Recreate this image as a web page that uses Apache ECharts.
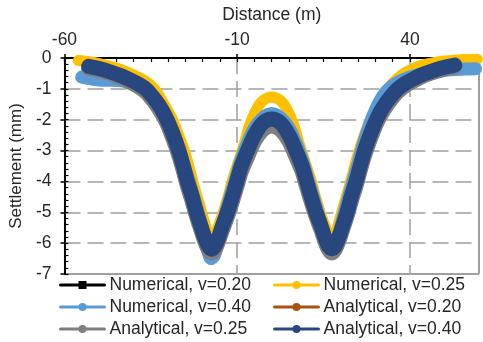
<!DOCTYPE html>
<html><head><meta charset="utf-8">
<script src="https://cdn.jsdelivr.net/npm/echarts@6/dist/echarts.min.js"></script>
<style>html,body{margin:0;padding:0;background:#fff}#c{width:483px;height:342px}</style>
</head><body><div id="c"></div>
<script>
// ---- data ----
const xAxisTitle = 'Distance (m)';
const yAxisTitle = 'Settlement (mm)';
const xMin = -60, xMax = 60, xStep = 50;
const yMin = -7, yMax = 0, yStep = 1;

const seriesNames = ['Numerical, v=0.20', 'Numerical, v=0.25', 'Numerical, v=0.40',
                     'Analytical, v=0.20', 'Analytical, v=0.25', 'Analytical, v=0.40'];

// Numerical v=0.25 and v=0.20 share x positions
const xNum = [-56, -53, -50, -47, -44, -41, -38, -35.5, -33.8, -32.2, -30.4, -28.6, -26.8, -25.3, -23.9, -22.6, -21.3, -20.1, -19.0, -18.1, -17.4, -16.6, -15.6, -14.3, -12.8, -11.2, -9.6, -8, -6.3, -4.5, -2.5, 0,
              2.5, 4.5, 6.3, 8, 9.6, 11.2, 12.8, 14.3, 15.6, 16.6, 17.4, 18.1, 19.0, 20.1, 21.3, 22.6, 23.9, 25.3, 26.8, 28.6, 30.4, 32.2, 33.8, 35.5, 38, 41, 44, 47, 50, 53, 56, 59.5];
const num25 = [-0.08, -0.12, -0.18, -0.26, -0.36, -0.5, -0.66, -0.84, -1.03, -1.3, -1.65, -2.03, -2.55, -3.0, -3.55, -4.1, -4.6, -5.07, -5.5, -5.85, -6.0, -5.85, -5.5, -5.1, -4.55, -3.9, -3.35, -2.8, -2.15, -1.68, -1.38, -1.26,
               -1.38, -1.68, -2.15, -2.8, -3.35, -3.9, -4.55, -5.1, -5.5, -5.82, -5.95, -5.82, -5.5, -5.07, -4.6, -4.1, -3.55, -3.0, -2.5, -1.98, -1.6, -1.25, -0.98, -0.76, -0.52, -0.34, -0.22, -0.15, -0.1, -0.07, -0.05, -0.04];
const num20 = [-0.04, -0.07, -0.12, -0.19, -0.28, -0.4, -0.55, -0.72, -0.88, -1.1, -1.45, -1.82, -2.3, -2.75, -3.3, -3.85, -4.35, -4.85, -5.3, -5.62, -5.75, -5.62, -5.3, -4.85, -4.3, -3.65, -3.1, -2.6, -2.05, -1.65, -1.45, -1.38,
               -1.45, -1.65, -2.05, -2.6, -3.1, -3.65, -4.3, -4.85, -5.25, -5.5, -5.6, -5.5, -5.25, -4.85, -4.35, -3.85, -3.3, -2.75, -2.3, -1.82, -1.45, -1.1, -0.88, -0.7, -0.48, -0.32, -0.21, -0.14, -0.09, -0.06, -0.04, -0.03];

const xNum40 = [-55, -52, -49, -46, -43, -40, -37, -35, -33, -31, -29.5, -28, -26.3, -25, -23.6, -22.2, -20.8, -19.6, -18.6, -17.6, -16.6, -15.6, -14.5, -13.2, -11.8, -10.3, -9, -7.2, -5.2, -2.7, 0,
                2.7, 5.2, 7.2, 9, 10.3, 11.8, 13.2, 14.5, 15.6, 16.6, 17.5, 18.4, 19.4, 20.6, 22, 23.4, 24.8, 26.1, 27.6, 29.2, 31, 33, 35.5, 38, 41, 44, 47, 50, 53, 56, 59];
const num40 = [-0.62, -0.68, -0.72, -0.72, -0.75, -0.82, -0.95, -1.15, -1.45, -1.8, -2.15, -2.55, -3.1, -3.6, -4.1, -4.65, -5.2, -5.75, -6.2, -6.5, -6.4, -6.0, -5.5, -4.95, -4.4, -3.85, -3.35, -2.8, -2.3, -1.95, -1.8,
               -1.95, -2.3, -2.8, -3.35, -3.85, -4.4, -4.95, -5.45, -5.85, -6.05, -6.1, -6.0, -5.7, -5.2, -4.6, -4.05, -3.5, -2.95, -2.4, -1.9, -1.45, -1.1, -0.85, -0.7, -0.58, -0.5, -0.44, -0.4, -0.37, -0.36, -0.35];

// Analytical series share x positions
const xAna = [-53, -50, -47, -44, -41.5, -39, -36.5, -34.5, -32.5, -30.5, -28.8, -26.9, -25.6, -24.4, -23.0, -21.8, -20.5, -19.3, -18.3, -17.4, -16.5, -15.5, -14.3, -12.8, -11.4, -10.1, -8.8, -7.0, -5.0, -2.5, 0,
              2.5, 5.0, 7.0, 8.8, 10.1, 11.4, 12.8, 14.3, 15.5, 16.5, 17.4, 18.3, 19.3, 20.5, 21.8, 23.0, 24.4, 25.6, 26.9, 28.8, 30.5, 32.5, 34.5, 36.5, 39, 41.5, 44, 47, 50, 53];
const ana40 = [-0.27, -0.34, -0.44, -0.56, -0.68, -0.82, -1.0, -1.25, -1.55, -1.95, -2.4, -3.0, -3.5, -4.0, -4.5, -5.0, -5.45, -5.85, -6.1, -6.2, -6.1, -5.85, -5.45, -5.0, -4.5, -4.0, -3.5, -3.0, -2.5, -2.1, -1.98,
               -2.1, -2.5, -3.0, -3.5, -4.0, -4.5, -5.0, -5.45, -5.85, -6.1, -6.18, -6.1, -5.85, -5.45, -5.0, -4.5, -4.0, -3.5, -3.0, -2.4, -1.95, -1.55, -1.25, -1.0, -0.8, -0.65, -0.52, -0.4, -0.3, -0.23];
const ana25 = [-0.33, -0.4, -0.5, -0.63, -0.76, -0.9, -1.1, -1.36, -1.68, -2.08, -2.55, -3.15, -3.65, -4.15, -4.65, -5.12, -5.57, -5.97, -6.22, -6.32, -6.22, -5.97, -5.58, -5.13, -4.65, -4.17, -3.68, -3.2, -2.7, -2.32, -2.2,
               -2.32, -2.7, -3.2, -3.68, -4.17, -4.65, -5.13, -5.58, -5.97, -6.22, -6.32, -6.22, -5.97, -5.57, -5.12, -4.65, -4.15, -3.65, -3.15, -2.55, -2.08, -1.68, -1.36, -1.1, -0.88, -0.72, -0.58, -0.46, -0.36, -0.29];
const ana20 = [-0.3, -0.37, -0.47, -0.6, -0.72, -0.86, -1.05, -1.3, -1.61, -2.02, -2.48, -3.08, -3.58, -4.08, -4.58, -5.06, -5.51, -5.91, -6.16, -6.26, -6.16, -5.91, -5.51, -5.06, -4.58, -4.08, -3.59, -3.1, -2.6, -2.21, -2.09,
               -2.21, -2.6, -3.1, -3.59, -4.08, -4.58, -5.06, -5.51, -5.91, -6.16, -6.25, -6.16, -5.91, -5.51, -5.06, -4.58, -4.08, -3.58, -3.08, -2.48, -2.02, -1.61, -1.3, -1.05, -0.84, -0.68, -0.55, -0.43, -0.33, -0.26];

// ---- build chart ----
const FONT = 'Liberation Sans, Arial, sans-serif';
const colors = ['#000000', '#FFC000', '#5B9BD5', '#A9510F', '#7F7F7F', '#28477F'];
const widths = [3, 11, 13, 15, 15, 15];
const xs = [xNum, xNum, xNum40, xAna, xAna, xAna];
const ys = [num20, num25, num40, ana20, ana25, ana40];
const symbols = ['rect', 'circle', 'circle', 'circle', 'circle', 'circle'];

function pairs(xa, ya) { return xa.map((x, i) => [x, ya[i]]); }

const series = seriesNames.map((name, k) => ({
  name: name, type: 'line', xAxisIndex: 0, yAxisIndex: 0,
  data: pairs(xs[k], ys[k]),
  smooth: 0.3, showSymbol: false, symbol: symbols[k],
  lineStyle: { color: colors[k], width: widths[k], cap: 'round', join: 'round' },
  itemStyle: { color: colors[k] },
  emphasis: { disabled: true }, animation: false
}));

const legendPos = [[59, 276], [273, 276], [59, 298], [273, 298], [59, 320], [273, 320]];
const legends = seriesNames.map((name, k) => ({
  data: [name], left: legendPos[k][0], top: legendPos[k][1], padding: 0,
  itemWidth: 44, itemHeight: 10, itemGap: 0,
  textStyle: { fontSize: 17.5, color: '#262626', fontFamily: FONT },
  lineStyle: { width: 3 }
}));

const chart = echarts.init(document.getElementById('c'), null, { renderer: 'canvas' });
chart.setOption({
  animation: false,
  grid: { left: 63, top: 58, width: 416, height: 216, show: true, borderColor: '#404040', borderWidth: 1, containLabel: false },
  legend: legends,
  xAxis: [{
    type: 'value', position: 'top', min: xMin, max: xMax, interval: xStep,
    name: xAxisTitle, nameLocation: 'middle', nameGap: 34,
    nameTextStyle: { fontSize: 17.5, color: '#262626', fontFamily: FONT },
    axisLine: { onZero: false, lineStyle: { color: '#000', width: 2 } },
    axisTick: { inside: false, length: 4, lineStyle: { color: '#000', width: 1.5 } },
    axisLabel: { margin: 9, fontSize: 17.5, color: '#262626', fontFamily: FONT, showMaxLabel: false },
    splitLine: { show: true, lineStyle: { color: '#A0A0A0', width: 1.5, type: [16, 7] } }
  }, {
    type: 'value', position: 'top', min: xMin, max: xMax, interval: 5,
    axisLine: { show: false, onZero: false },
    axisTick: { inside: true, length: 4, lineStyle: { color: '#000', width: 1.2 } },
    axisLabel: { show: false }, splitLine: { show: false }
  }],
  yAxis: [{
    type: 'value', position: 'left', min: yMin, max: yMax, interval: yStep,
    name: yAxisTitle, nameLocation: 'middle', nameGap: 36, nameRotate: 90,
    nameTextStyle: { fontSize: 17, color: '#262626', fontFamily: FONT },
    axisLine: { onZero: false, lineStyle: { color: '#000', width: 2 } },
    axisTick: { inside: false, length: 4, lineStyle: { color: '#000', width: 1.5 } },
    axisLabel: { margin: 13, fontSize: 17.5, color: '#262626', fontFamily: FONT },
    splitLine: { show: true, lineStyle: { color: '#A0A0A0', width: 1.5, type: [16, 7] } }
  }, {
    type: 'value', position: 'left', min: yMin, max: yMax, interval: 0.2,
    axisLine: { show: false, onZero: false },
    axisTick: { inside: true, length: 4, lineStyle: { color: '#000', width: 1.2 } },
    axisLabel: { show: false }, splitLine: { show: false }
  }],
  series: series
});
</script>
</body></html>
